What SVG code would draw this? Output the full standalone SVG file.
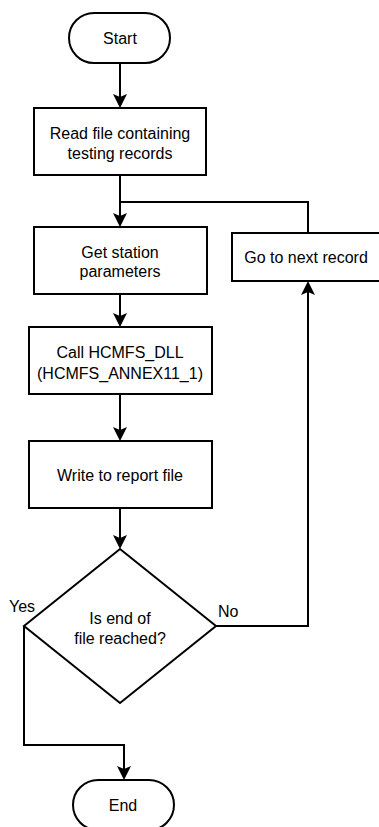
<svg xmlns="http://www.w3.org/2000/svg" width="379" height="827" viewBox="0 0 379 827">
<style>
.shape{fill:#fff;stroke:#000;stroke-width:2}
.edge{fill:none;stroke:#000;stroke-width:2}
text{font-family:"Liberation Sans",Arial,sans-serif;font-size:16px;fill:#000;text-anchor:middle}
.lbl{text-anchor:start}
</style>
<defs>
<marker id="arr" viewBox="0 0 14 14" refX="8" refY="7" markerWidth="14" markerHeight="14" markerUnits="userSpaceOnUse" orient="auto">
<path d="M0,0 L14,7 L0,14 L3,7 z" fill="#000"/>
</marker>
</defs>
<rect width="379" height="827" fill="#fff"/>
<g id="connectors">
<path class="edge" d="M120,63 L120,102" marker-end="url(#arr)"/>
<path class="edge" d="M120,175 L120,221" marker-end="url(#arr)"/>
<path class="edge" d="M308,233 L308,202 L120,202"/>
<path class="edge" d="M120,294 L120,321" marker-end="url(#arr)"/>
<path class="edge" d="M120,394 L120,435" marker-end="url(#arr)"/>
<path class="edge" d="M120,508 L120,543" marker-end="url(#arr)"/>
<path class="edge" d="M216,626 L308,626 L308,287" marker-end="url(#arr)"/>
<path class="edge" d="M24,626 L24,745 L124,745 L124,774" marker-end="url(#arr)"/>
<text class="lbl" x="9" y="612">Yes</text>
<text class="lbl" x="218" y="617">No</text>
</g>
<g id="start">
<rect class="shape" x="69" y="13" width="101" height="50" rx="25" ry="25"/>
<text x="120" y="43.5">Start</text>
</g>
<g id="read">
<rect class="shape" x="34" y="108" width="172" height="67"/>
<text x="120" y="138.5">Read file containing</text>
<text x="120" y="158.5">testing records</text>
</g>
<g id="station">
<rect class="shape" x="34" y="227" width="173" height="67"/>
<text x="120" y="257.5">Get station</text>
<text x="120" y="277">parameters</text>
</g>
<g id="next">
<rect class="shape" x="232" y="233" width="160" height="48"/>
<text x="306" y="262.5">Go to next record</text>
</g>
<g id="call">
<rect class="shape" x="29" y="327" width="183" height="67"/>
<text x="120" y="357.5">Call HCMFS_DLL</text>
<text x="120" y="378.5">(HCMFS_ANNEX11_1)</text>
</g>
<g id="write">
<rect class="shape" x="29" y="441" width="183" height="67"/>
<text x="120" y="480.5">Write to report file</text>
</g>
<g id="decision">
<polygon class="shape" points="120,549 216,626 120,703 24,626"/>
<text x="120" y="623.5">Is end of</text>
<text x="120" y="643.5">file reached?</text>
</g>
<g id="end">
<rect class="shape" x="73" y="780" width="101" height="50" rx="25" ry="25"/>
<text x="123" y="810.5">End</text>
</g>
</svg>
